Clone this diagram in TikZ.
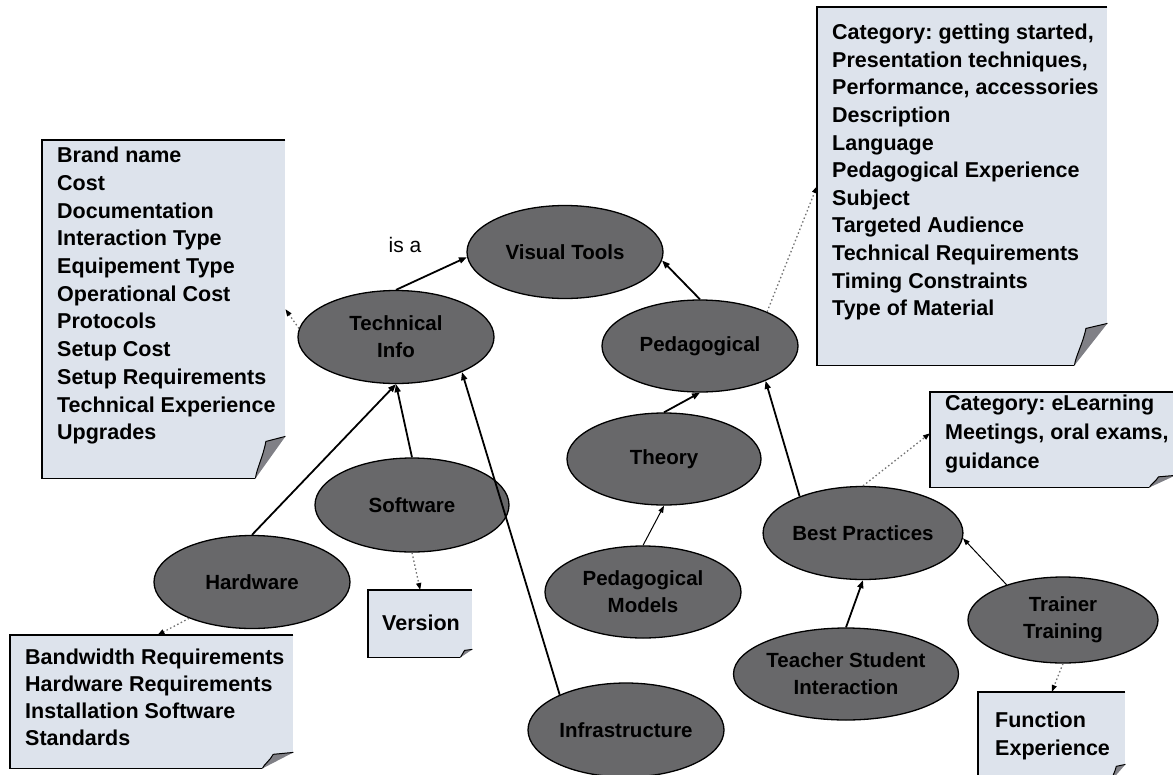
\documentclass[tikz,border=0pt]{standalone}
\usepackage{fontspec}
\setmainfont{Liberation Sans}
\frenchspacing
\usetikzlibrary{arrows.meta,calc,shapes.geometric}
\definecolor{ellfill}{RGB}{104,104,106}
\definecolor{notefill}{RGB}{221,227,236}
\definecolor{curlfill}{RGB}{128,128,134}
\definecolor{dotgrey}{RGB}{115,115,115}
\newcommand\notecurl[3]{%
  \fill[white] ($(#1.south east)+(0,-#3)$) -- (#1.south east) -- ($(#1.south east)+(-#2,0)$) -- cycle;
  \fill[curlfill] ($(#1.south east)+(0,-#3)$) -- ($(#1.south east)+({-0.65*#2},{-0.88*#3})$) .. controls ($(#1.south east)+({-0.75*#2},{-0.5*#3})$) and ($(#1.south east)+({-0.95*#2},{-0.25*#3})$) .. ($(#1.south east)+(-#2,0)$) -- cycle;
  \draw[line width=1pt] ($(#1.south east)+(0,-#3)$) -- ($(#1.south east)+({-0.65*#2},{-0.88*#3})$) .. controls ($(#1.south east)+({-0.75*#2},{-0.5*#3})$) and ($(#1.south east)+({-0.95*#2},{-0.25*#3})$) .. ($(#1.south east)+(-#2,0)$);
}
\newcommand\noteborder[2]{%
  \draw[noteline] (#1.north east) -- (#1.north west) -- (#1.south west) -- ($(#1.south east)+(-#2,0)$);
}
\begin{document}
\begin{tikzpicture}[x=1pt,y=-1pt,
  concept/.style={ellipse, draw=black, line width=1.3pt, fill=ellfill, inner sep=0pt,
    minimum width=196pt, minimum height=93pt, align=center,
    font=\fontsize{20.5}{27}\selectfont\bfseries},
  notebox/.style={rectangle, fill=notefill, inner sep=0pt, anchor=north west},
  notetext/.style={anchor=north west, inner sep=0pt, align=left},
  noteline/.style={line width=1.6pt, black},
  isa/.style={line width=1.8pt, -{Triangle[length=8pt,width=6pt]}},
  thinisa/.style={line width=1pt, -{Triangle[length=7pt,width=5pt]}},
  attr/.style={dotgrey, line width=1.3pt, dash pattern=on 1.5pt off 2.5pt,
    -{Triangle[length=7pt,width=5pt,fill=black,color=black]}}
]
\useasboundingbox (0,0) rectangle (1173,774);
\fill[white] (0,0) rectangle (1173,774);
\clip (0,0) rectangle (1173,774);

% notes
\node[notebox, minimum width=243pt, minimum height=338pt] (n1) at (42,140) {};
\noteborder{n1}{30}\notecurl{n1}{30}{42}
\node[notetext, font=\fontsize{21.5}{27.7}\selectfont\bfseries] (n1t) at (57,147)
  {Brand name\\Cost\\Documentation\\Interaction Type\\Equipement Type\\Operational Cost\\Protocols\\Setup Cost\\Setup Requirements\\Technical Experience\\Upgrades};

\node[notebox, minimum width=290pt, minimum height=358pt] (n2) at (817,7) {};
\noteborder{n2}{33}\notecurl{n2}{33}{42}
\node[notetext, font=\fontsize{21.5}{27.6}\selectfont\bfseries] (n2t) at (832,24)
  {Category: getting started,\\Presentation techniques,\\Performance, accessories\\Description\\Language\\Pedagogical Experience\\Subject\\Targeted Audience\\Technical Requirements\\Timing Constraints\\Type of Material};

\node[notebox, minimum width=245pt, minimum height=95pt] (n3) at (930,392) {};
\noteborder{n3}{26}\notecurl{n3}{26}{12}
\node[notetext, font=\fontsize{21.5}{29}\selectfont\bfseries] (n3t) at (945,395)
  {Category: eLearning\\Meetings, oral exams,\\guidance};

\node[notebox, minimum width=283pt, minimum height=133pt] (n4) at (10,635) {};
\noteborder{n4}{31}\notecurl{n4}{31}{16}
\node[notetext, font=\fontsize{21.5}{27}\selectfont\bfseries] (n4t) at (25,649)
  {Bandwidth Requirements\\Hardware Requirements\\Installation Software\\Standards};

\node[notebox, minimum width=104pt, minimum height=67pt] (n5) at (368,590) {};
\noteborder{n5}{12}\notecurl{n5}{12}{8}
\node[font=\fontsize{21.5}{27}\selectfont\bfseries, inner sep=0pt] (n5t) at (421,623) {Version};

\node[notebox, minimum width=147pt, minimum height=88pt] (n6) at (978,692) {};
\noteborder{n6}{14}\notecurl{n6}{14}{16}
\node[notetext, font=\fontsize{21.5}{28}\selectfont\bfseries] (n6t) at (995,712)
  {Function\\Experience};

% concepts
\node[concept] (vt) at (565,252) {Visual Tools};
\node[concept] (ti) at (396,337) {Technical\\Info};
\node[concept, minimum height=92pt] (ped) at (700,346) {Pedagogical};
\node[concept, minimum width=194pt, minimum height=92pt] (theo) at (664,459) {Theory};
\node[concept, minimum width=194pt, minimum height=94pt] (sw) at (412,505) {Software};
\node[concept] (hw) at (252,582) {Hardware};
\node[concept, minimum height=92pt] (pm) at (643,592) {Pedagogical\\Models};
\node[concept] (bp) at (863,533) {Best Practices};
\node[concept, minimum width=190pt, minimum height=86pt] (tr) at (1063,620) {Trainer\\Training};
\node[concept, minimum width=214pt, minimum height=92pt] (ts) at (846,674) {Teacher Student\\Interaction};
\node[concept, minimum height=94pt] (inf) at (626,730) {Infrastructure};

\node[font=\fontsize{21}{25}\selectfont, inner sep=0pt] (isalabel) at (405,245) {is a};

% is-a connectors
\draw[isa] (ti.north) -- (vt.183);
\draw[isa] (ped.north) -- (vt.-5);
\draw[isa] (hw.north) -- (ti.south);
\draw[isa] (sw.north) -- (ti.south);
\draw[isa] (inf.152) -- (ti.-28);
\draw[isa] (theo.north) -- (ped.south);
\draw[thinisa] (pm.north) -- (theo.south);
\draw[isa] (bp.150) -- (ped.-28);
\draw[isa] (ts.north) -- (bp.south);
\draw[thinisa] (tr.148) -- (bp.-3);

% attribute connectors
\draw[attr] (ti.175) -- (n1.east);
\draw[attr] (ped.27) -- (n2.west);
\draw[attr] (bp.north) -- (n3.177);
\draw[attr] (hw.210) -- (n4.85);
\draw[attr] (sw.south) -- (n5.north);
\draw[attr] (tr.south) -- (n6.north);
\end{tikzpicture}
\end{document}
